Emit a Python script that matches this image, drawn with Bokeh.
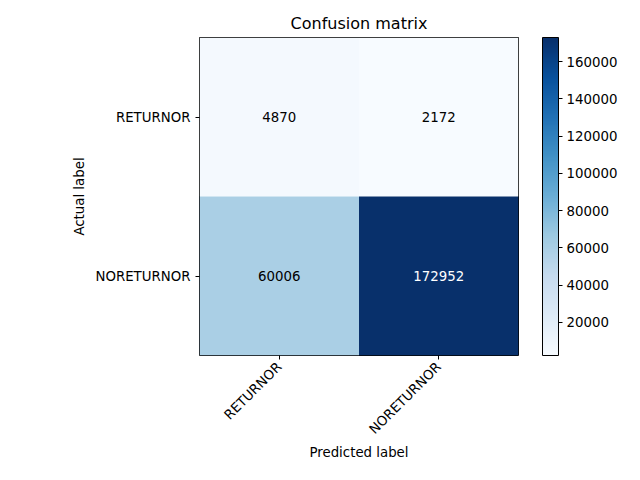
from bokeh.plotting import figure
from bokeh.models import (ColumnDataSource, LinearColorMapper, ColorBar,
                          FixedTicker, NumeralTickFormatter)
from bokeh.palettes import Blues256
from bokeh.core.properties import value
from bokeh.embed import file_html
from bokeh.resources import INLINE

labels = ["RETURNOR", "NORETURNOR"]
actual = [0, 0, 1, 1]
predicted = [0, 1, 0, 1]
counts = [4870, 2172, 60006, 172952]
cbar_ticks = [20000, 40000, 60000, 80000, 100000, 120000, 140000, 160000]

FONT = "DejaVu Sans"
thresh = max(counts) / 2.0
source = ColumnDataSource(data=dict(
    x=predicted, y=actual, n=counts, txt=[str(c) for c in counts],
    tc=["white" if c > thresh else "black" for c in counts]))

mapper = LinearColorMapper(palette=list(reversed(Blues256)),
                           low=min(counts), high=max(counts))

p = figure(frame_width=319, frame_height=318, x_range=(-0.5, 1.5),
           y_range=(1.5, -0.5), output_backend="svg", toolbar_location=None,
           min_border_left=199, min_border_top=37, min_border_bottom=100,
           min_border_right=30)
p.title.text = "Confusion matrix"
p.title.align = "center"
p.title.text_font = FONT
p.title.text_font_size = "12pt"
p.title.text_font_style = "normal"
p.title.text_color = "black"

p.rect("x", "y", width=1, height=1, source=source,
       fill_color={"field": "n", "transform": mapper}, line_color=None)
p.text("x", "y", text="txt", source=source, text_color="tc",
       text_align="center", text_baseline="middle",
       text_font=value(FONT), text_font_size="10pt")

for ax in (p.xaxis, p.yaxis):
    ax.ticker = FixedTicker(ticks=[0, 1])
    ax.major_label_overrides = {0: labels[0], 1: labels[1]}
    ax.minor_tick_line_color = None
    ax.major_label_text_font = FONT
    ax.major_label_text_font_size = "10pt"
    ax.major_label_text_color = "black"
    ax.axis_label_text_font = FONT
    ax.axis_label_text_font_size = "10pt"
    ax.axis_label_text_font_style = "normal"
    ax.axis_label_text_color = "black"
    ax.major_tick_out = 4
    ax.major_tick_in = 0
    ax.axis_line_color = None
p.xaxis.major_label_orientation = 0.785
p.xaxis.axis_label = "Predicted label"
p.yaxis.axis_label = "Actual label"
p.xaxis.axis_label_standoff = 0
p.grid.visible = False
p.outline_line_color = "black"
p.outline_line_alpha = 1

cb = ColorBar(color_mapper=mapper, width=16, padding=0, margin=0,
              location=(24, 0), ticker=FixedTicker(ticks=cbar_ticks),
              formatter=NumeralTickFormatter(format="0"),
              major_label_text_font=FONT, major_label_text_font_size="10pt",
              major_label_text_color="black",
              major_tick_line_color="black", major_tick_out=4, major_tick_in=0,
              bar_line_color="black", label_standoff=4)
p.add_layout(cb, "right")

open("out.html", "w").write(file_html(p, INLINE))
